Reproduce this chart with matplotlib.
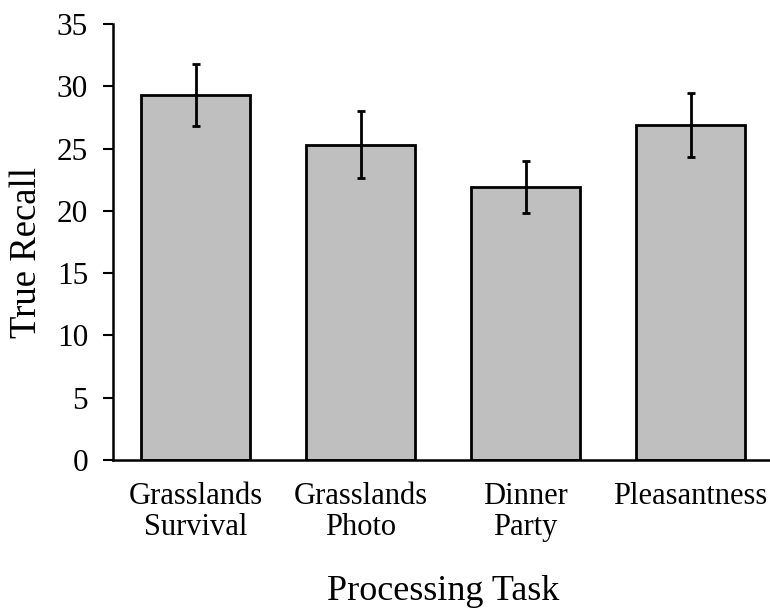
import matplotlib.pyplot as plt

plt.rcParams["font.family"] = ["Liberation Serif", "DejaVu Serif"]

TAREFAS = ["Grasslands\nSurvival", "Grasslands\nPhoto", "Dinner\nParty", "Pleasantness"]
MEDIAS = [29.3, 25.3, 21.9, 26.9]
ERROS = [2.5, 2.7, 2.1, 2.55]
YTICKS = [0, 5, 10, 15, 20, 25, 30, 35]

fig = plt.figure(figsize=(7.7, 6.11), dpi=100)
ax = fig.add_axes([113 / 770, 151 / 611, 660 / 770, 436 / 611])

pos = range(len(TAREFAS))
ax.bar(pos, MEDIAS, width=0.665, color="#BFBFBF", edgecolor="black", linewidth=2.0,
       zorder=2)
ax.errorbar(pos, MEDIAS, yerr=ERROS, fmt="none", ecolor="black", elinewidth=2.0,
            capsize=3, capthick=2.0, zorder=3)

ax.set_xlim(-0.5, 3.5)
ax.set_ylim(0, 35)
ax.set_yticks(YTICKS)
ax.set_xticks(list(pos))
ax.set_xticklabels(TAREFAS, fontsize=22, linespacing=1.1)
ax.tick_params(axis="y", labelsize=22.5, length=7, width=1.5, pad=11)
ax.tick_params(axis="x", length=0, pad=16)
for s in ("top", "right"):
    ax.spines[s].set_visible(False)
for s in ("left", "bottom"):
    ax.spines[s].set_linewidth(1.8)

ax.set_ylabel("True Recall", fontsize=26.5)
ax.yaxis.set_label_coords(-0.105, 0.477)
xl = ax.set_xlabel("Processing Task", fontsize=26)
xl.set_va("baseline")
ax.xaxis.set_label_coords(0.5, -0.322)

fig.savefig("out.png", dpi=100, facecolor="white")
